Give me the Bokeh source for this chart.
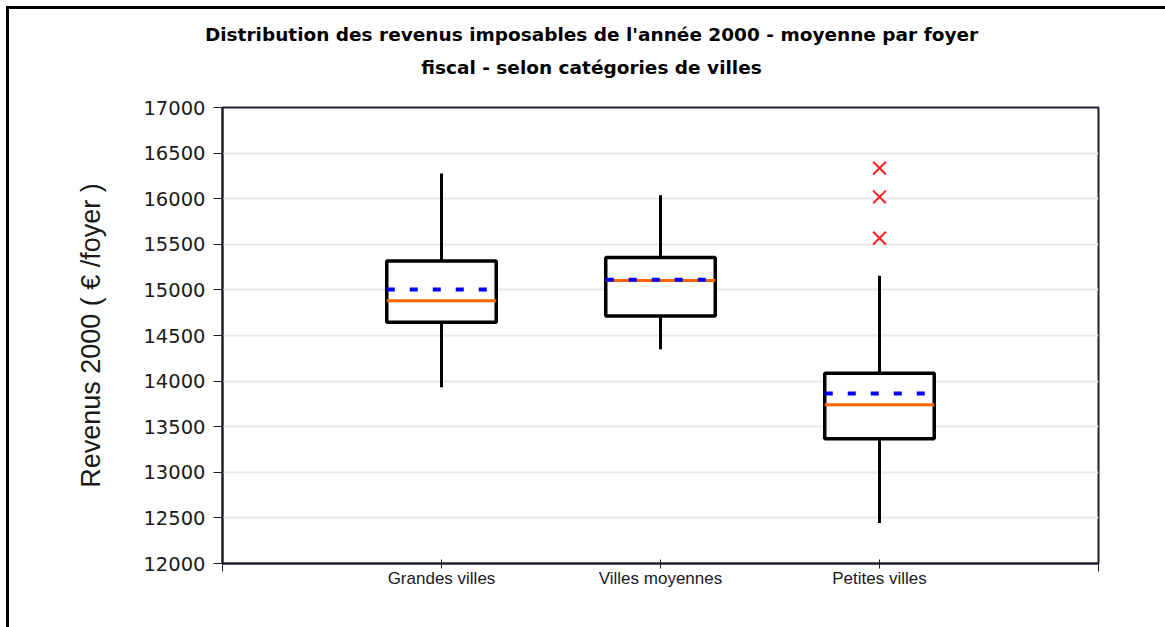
import numpy as np
from bokeh.plotting import figure
from bokeh.models import Range1d, FixedTicker, Title, ColumnDataSource
from bokeh.embed import file_html
from bokeh.resources import INLINE

# ---------------- data ----------------
categories = ["Grandes villes", "Villes moyennes", "Petites villes"]
q1 = [14645, 14713, 13369]
q3 = [15316, 15356, 14085]
medians = [14880, 15104, 13742]
means = [15005, 15112, 13863]
whisker_low = [13932, 14348, 12443]
whisker_high = [16277, 16039, 15155]
outlier_category = ["Petites villes", "Petites villes", "Petites villes"]
outlier_values = [16336, 16019, 15568]
y_ticks = list(range(12000, 17001, 500))
title_lines = [
    "Distribution des revenus imposables de l'année 2000 - moyenne par foyer",
    "fiscal - selon catégories de villes",
]
y_label = "Revenus 2000 ( € /foyer )"

# ---------------- derived ----------------
pos = {c: i + 1 for i, c in enumerate(categories)}
x = np.array([pos[c] for c in categories], dtype=float)
half = 0.25
src = ColumnDataSource(dict(
    x=x, x0=x - half, x1=x + half,
    q1=q1, q3=q3, med=medians, mean=means, lo=whisker_low, hi=whisker_high,
))
out_src = ColumnDataSource(dict(x=[pos[c] for c in outlier_category], y=outlier_values))

DARK = "#1e1e30"

p = figure(width=1165, height=627, output_backend="svg", toolbar_location=None,
           x_range=Range1d(0, len(categories) + 1), y_range=Range1d(12000, 17000),
           min_border_left=222, min_border_top=107, min_border_right=67, min_border_bottom=64)
p.background_fill_color = "white"
p.border_fill_color = None
p.outline_line_color = DARK
p.outline_line_width = 2
p.styles = {"background-color": "white",
            "box-shadow": "inset 6px 6px 0 0 white, inset 9px 9px 0 0 black"}

# title: two lines (inner line added first), shifted left of the frame centre
for t, so, pb in zip(reversed(title_lines), (10, 10), (25, 0)):
    p.add_layout(Title(text=t, align="center", text_font="DejaVu Sans",
                       text_font_style="bold", text_font_size="18.5px",
                       text_color="black", standoff=so,
                       padding=dict(left=0, right=138, top=0, bottom=pb)), "above")

# grid
p.xgrid.grid_line_color = None
p.ygrid.grid_line_color = "#e8e8e8"
p.ygrid.grid_line_width = 2
p.ygrid.ticker = FixedTicker(ticks=y_ticks)

# y axis
p.yaxis.ticker = FixedTicker(ticks=y_ticks)
p.yaxis.axis_line_color = DARK
p.yaxis.axis_line_width = 2
p.yaxis.major_tick_line_color = DARK
p.yaxis.major_tick_out = 9
p.yaxis.major_tick_in = 0
p.yaxis.minor_tick_line_color = None
p.yaxis.major_label_text_font = "DejaVu Sans"
p.yaxis.major_label_text_font_size = "19.5px"
p.yaxis.major_label_text_color = "#1a1a1a"
p.yaxis.major_label_standoff = 8
p.yaxis.axis_label = y_label
p.yaxis.axis_label_text_font = "Liberation Sans"
p.yaxis.axis_label_text_font_style = "normal"
p.yaxis.axis_label_text_font_size = "27px"
p.yaxis.axis_label_text_color = "#1a1a1a"
p.yaxis.axis_label_standoff = 34

# x axis
p.xaxis.ticker = FixedTicker(ticks=list(pos.values()), minor_ticks=[0, len(categories) + 1])
p.xaxis.major_label_overrides = {v: k for k, v in pos.items()}
p.xaxis.axis_line_color = DARK
p.xaxis.axis_line_width = 2
p.xaxis.major_tick_line_color = DARK
p.xaxis.major_tick_in = 4
p.xaxis.major_tick_out = 5
p.xaxis.minor_tick_line_color = DARK
p.xaxis.minor_tick_in = 0
p.xaxis.minor_tick_out = 8
p.xaxis.major_label_text_font = "Liberation Sans"
p.xaxis.major_label_text_font_size = "17px"
p.xaxis.major_label_text_color = "#1a1a1a"
p.xaxis.major_label_standoff = -3

# whiskers
p.segment("x", "q3", "x", "hi", source=src, line_color="black", line_width=3)
p.segment("x", "lo", "x", "q1", source=src, line_color="black", line_width=3)
# boxes
p.quad(left="x0", right="x1", bottom="q1", top="q3", source=src,
       fill_color="white", line_color="black", line_width=3.5)
# medians
p.segment("x0", "med", "x1", "med", source=src, line_color="#ff6600", line_width=3)
# means
p.segment("x0", "mean", "x1", "mean", source=src, line_color="#0000ff", line_width=4,
          line_dash="8 15")
# outliers
p.scatter("x", "y", source=out_src, marker="x", size=18, line_color="#ff2020", line_width=2)

open("out.html", "w").write(file_html(p, INLINE))
